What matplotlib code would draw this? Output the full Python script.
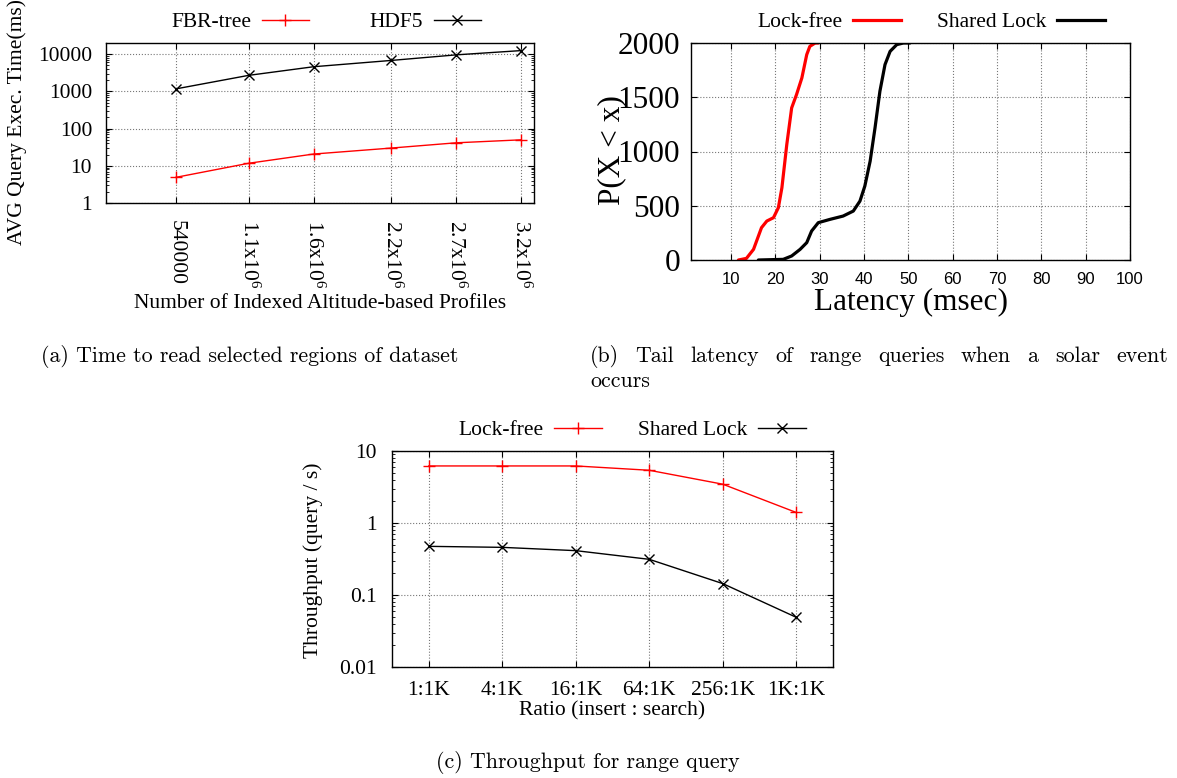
import matplotlib.pyplot as plt
from matplotlib.lines import Line2D
from matplotlib.ticker import NullFormatter, LogLocator

plt.rcParams['font.family'] = ['Liberation Serif', 'DejaVu Serif']
plt.rcParams['mathtext.default'] = 'regular'

# (a) query time vs number of profiles
profiles = [540000, 1.1e6, 1.6e6, 2.2e6, 2.7e6, 3.2e6]
profile_labels = ['540000', r'1.1x10$^6$', r'1.6x10$^6$', r'2.2x10$^6$', r'2.7x10$^6$', r'3.2x10$^6$']
fbr_time = [4.9, 11.7, 20.7, 30, 41.5, 49.9]
hdf5_time = [1170, 2700, 4600, 6800, 9600, 12500]

# (b) latency CDF
lockfree_lat = [11.7, 13.5, 15.1, 16.9, 18.1, 19.6, 20.7, 21.5, 22.6, 23.7, 24.8, 26.0, 27.1, 27.8, 29.0, 29.7]
lockfree_cnt = [0, 15, 98, 298, 359, 390, 482, 666, 1064, 1402, 1525, 1678, 1893, 1969, 2000, 2000]
shared_lat = [16.2, 21.8, 23.7, 25.6, 27.1, 28.2, 29.7, 32.3, 35.3, 37.6, 39.1, 40.2, 41.4, 42.5, 43.6,
              44.75, 45.9, 47.4, 48.9, 50.4]
shared_cnt = [0, 6, 37, 98, 160, 267, 344, 374, 405, 451, 543, 681, 911, 1218, 1555, 1801, 1923, 1985,
              2000, 2000]

# (c) throughput vs insert:search ratio
ratios = ['1:1K', '4:1K', '16:1K', '64:1K', '256:1K', '1K:1K']
lockfree_tp = [6.2, 6.2, 6.2, 5.4, 3.46, 1.4]
shared_tp = [0.474, 0.459, 0.413, 0.313, 0.144, 0.049]

W, H = 1177, 778
fig = plt.figure(figsize=(W / 100, H / 100), dpi=100)


def box(l, t, r, b):
    return [l / W, 1 - b / H, (r - l) / W, (b - t) / H]


def px(x, y):
    return x / W, 1 - y / H


def style(ax, minor=False):
    ax.grid(True, which='major', linestyle=':', color='#777777', linewidth=0.8)
    ax.tick_params(which='both', direction='in', top=True, right=True)
    ax.tick_params(which='major', length=4.5)
    ax.tick_params(which='minor', length=2.2)
    for s in ax.spines.values():
        s.set_linewidth(1.0)


def legend(ax, handles, labels, cx, cy, colsp):
    ax.legend(handles, labels, ncol=2, markerfirst=False, frameon=False, loc='center',
              bbox_to_anchor=px(cx, cy), bbox_transform=fig.transFigure,
              handlelength=2.2, handletextpad=0.5, columnspacing=colsp, fontsize=15.5)


# ---- (a)
ax = fig.add_axes(box(106, 43, 534, 203))
ax.plot(profiles, fbr_time, color='red', marker='+', ms=9, lw=1.0)
ax.plot(profiles, hdf5_time, color='black', marker='x', ms=7, lw=1.0)
ax.set_yscale('log')
ax.set_ylim(1, 20000)
ax.set_xlim(0, 3.3e6)
ax.set_yticks([1, 10, 100, 1000, 10000])
ax.set_yticklabels(['1', '10', '100', '1000', '10000'], fontsize=15.5)
ax.yaxis.set_minor_locator(LogLocator(subs=range(2, 10)))
ax.yaxis.set_minor_formatter(NullFormatter())
ax.set_xticks(profiles)
ax.set_xticklabels(profile_labels, rotation=-90, fontsize=15.5, va='top', ha='center')
ax.tick_params(axis='x', pad=12)
ax.tick_params(axis='y', pad=10)
style(ax)
h = [Line2D([], [], color='red', marker='+', ms=9, lw=1.0),
     Line2D([], [], color='black', marker='x', ms=7, lw=1.0)]
legend(ax, h, ['FBR-tree', 'HDF5'], 326, 22, 2.8)
fig.text(*px(320, 303), 'Number of Indexed Altitude-based Profiles', fontsize=15.5, ha='center', va='center')
fig.text(*px(17, 122), 'AVG Query Exec. Time(ms)', fontsize=15.5, ha='center', va='center', rotation=90)

# ---- (b)
ax = fig.add_axes(box(691, 43, 1130, 260))
ax.plot(lockfree_lat, lockfree_cnt, color='red', lw=2.3, solid_capstyle='round')
ax.plot(shared_lat, shared_cnt, color='black', lw=2.3, solid_capstyle='round')
ax.set_xlim(1, 100)
ax.set_ylim(0, 2000)
ax.set_xticks(range(10, 101, 10))
ax.set_xticklabels([str(v) for v in range(10, 101, 10)], fontsize=12, family='Liberation Sans')
ax.set_yticks([0, 500, 1000, 1500, 2000])
ax.set_yticklabels(['0', '500', '1000', '1500', '2000'], fontsize=22.5)
ax.tick_params(axis='x', pad=9)
ax.tick_params(axis='y', pad=8)
style(ax)
h = [Line2D([], [], color='red', lw=2.3), Line2D([], [], color='black', lw=2.3)]
legend(ax, h, ['Lock-free', 'Shared Lock'], 931, 22, 1.7)
fig.text(*px(911, 302), 'Latency (msec)', fontsize=22.5, ha='center', va='center')
fig.text(*px(612, 150), 'P(X < x)', fontsize=22.5, ha='center', va='center', rotation=90)

# ---- (c)
ax = fig.add_axes(box(392, 451, 833, 667))
xs = range(len(ratios))
ax.plot(xs, lockfree_tp, color='red', marker='+', ms=9, lw=1.0)
ax.plot(xs, shared_tp, color='black', marker='x', ms=7, lw=1.0)
ax.set_yscale('log')
ax.set_ylim(0.01, 10)
ax.set_xlim(-0.5, 5.5)
ax.set_yticks([0.01, 0.1, 1, 10])
ax.set_yticklabels(['0.01', '0.1', '1', '10'], fontsize=15.5)
ax.yaxis.set_minor_locator(LogLocator(subs=range(2, 10)))
ax.yaxis.set_minor_formatter(NullFormatter())
ax.set_xticks(list(xs))
ax.set_xticklabels(ratios, fontsize=15.5)
ax.tick_params(axis='x', pad=10)
ax.tick_params(axis='y', pad=11)
style(ax)
h = [Line2D([], [], color='red', marker='+', ms=9, lw=1.0),
     Line2D([], [], color='black', marker='x', ms=7, lw=1.0)]
legend(ax, h, ['Lock-free', 'Shared Lock'], 632, 430, 1.7)
fig.text(*px(612, 711), 'Ratio (insert : search)', fontsize=15.5, ha='center', va='center')
fig.text(*px(313, 560), 'Throughput (query / s)', fontsize=15.5, ha='center', va='center', rotation=90)

# ---- captions
cap = dict(fontsize=15.8, family='cmr10', va='center')
fig.text(*px(250, 356), '(a) Time to read selected regions of dataset', ha='center', **cap)
fig.text(*px(588, 763), '(c) Throughput for range query', ha='center', **cap)

# justified first line of caption (b)
renderer = fig.canvas.get_renderer()
words = '(b) Tail latency of range queries when a solar event'.split()
x_left, x_right = 590, 1168
arts = [fig.text(0, 0, w, ha='left', **cap) for w in words]
widths = [a.get_window_extent(renderer).width for a in arts]
gap = (x_right - x_left - sum(widths)) / (len(words) - 1)
x = x_left
for a, w in zip(arts, widths):
    a.set_position(px(x, 356))
    x += w + gap
fig.text(*px(590, 381), 'occurs', ha='left', **cap)

fig.savefig('out.png', dpi=100)
